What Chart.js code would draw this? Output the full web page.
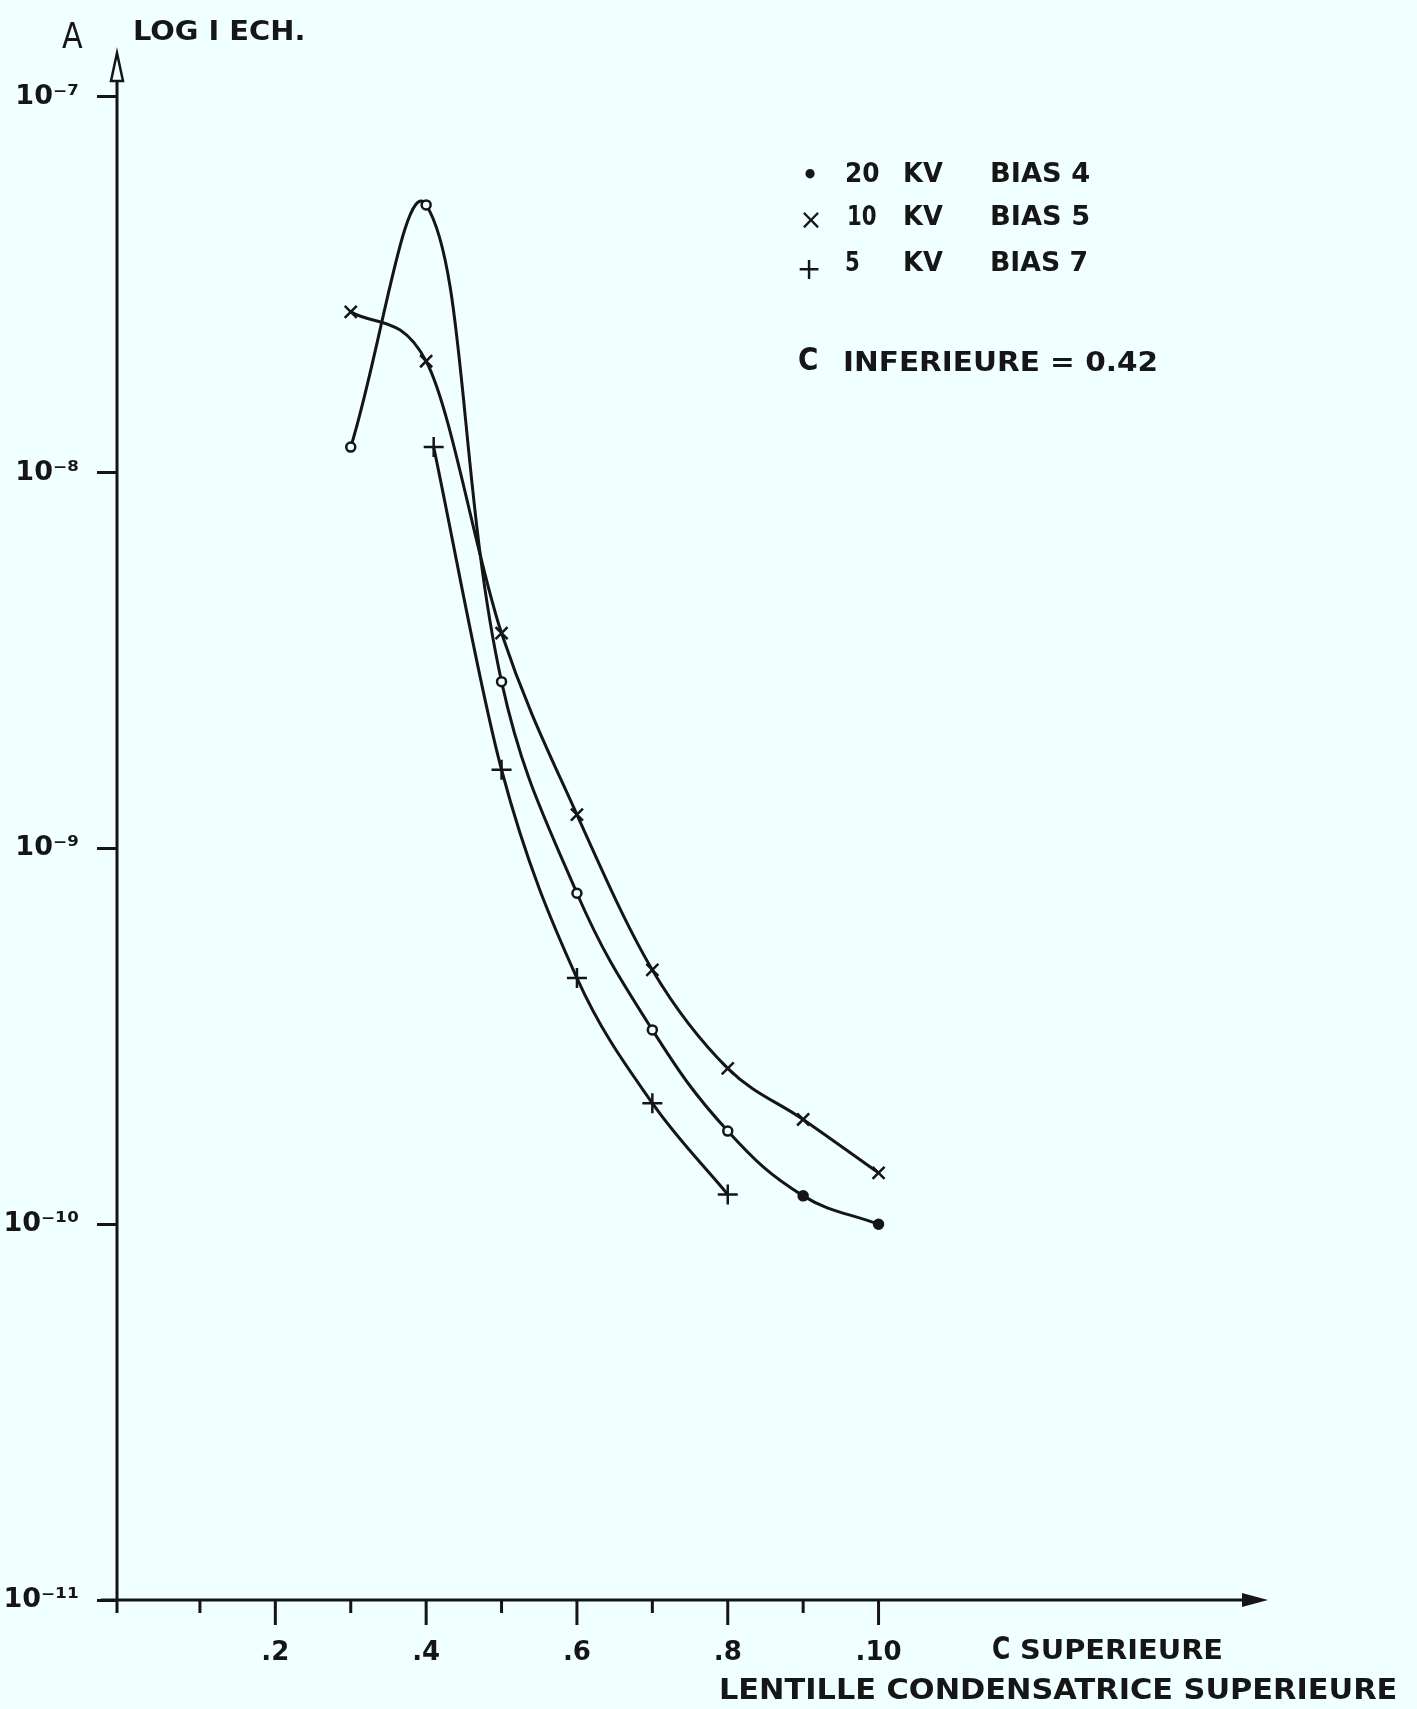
<!DOCTYPE html>
<html>
<head>
<meta charset="utf-8">
<title>LOG I ECH.</title>
<script src="https://cdn.jsdelivr.net/npm/chart.js@4.4.0/dist/chart.umd.min.js"></script>
<style>
  body { margin: 0; background: #f0ffff; }
  #page { position: relative; width: 1417px; height: 1709px; overflow: hidden; }
  #graph { position: absolute; left: 0; top: 0; }
  .lbl { position: absolute; font-family: "DejaVu Sans", sans-serif; font-weight: bold; color: #161616;
         white-space: nowrap; line-height: 1; transform-origin: 0 50%; }
  .mk { position: absolute; font-family: "DejaVu Sans", sans-serif; font-weight: bold; color: #161616;
        line-height: 1; transform: translate(-50%, -50%); }
</style>
</head>
<body>
<div id="page">
  <canvas id="graph" width="1417" height="1709"></canvas>

  <div class="lbl" style="left:62px;top:36px;font-size:36px;font-weight:normal" data-w="21">A</div>
  <div class="lbl" style="left:133px;top:30px;font-size:27px" data-w="172">LOG I ECH.</div>

  <div class="mk" style="left:810px;top:175px;font-size:26px">•</div>
  <div class="lbl" style="left:845px;top:172px;font-size:27px" data-w="35">20</div>
  <div class="lbl" style="left:903px;top:172px;font-size:27px" data-w="40">KV</div>
  <div class="lbl" style="left:990px;top:172px;font-size:27px" data-w="100">BIAS 4</div>

  <div class="mk" style="left:811px;top:220px;font-size:28px;font-weight:normal">×</div>
  <div class="lbl" style="left:847px;top:215px;font-size:27px" data-w="30">10</div>
  <div class="lbl" style="left:903px;top:215px;font-size:27px" data-w="40">KV</div>
  <div class="lbl" style="left:990px;top:215px;font-size:27px" data-w="100">BIAS 5</div>

  <div class="mk" style="left:809px;top:269px;font-size:30px;font-weight:normal">+</div>
  <div class="lbl" style="left:845px;top:261px;font-size:27px" data-w="15">5</div>
  <div class="lbl" style="left:903px;top:261px;font-size:27px" data-w="40">KV</div>
  <div class="lbl" style="left:990px;top:261px;font-size:27px" data-w="98">BIAS 7</div>

  <div class="lbl" style="left:798px;top:359px;font-size:32px" data-w="20">C</div>
  <div class="lbl" style="left:843px;top:361px;font-size:27px" data-w="315">INFERIEURE = 0.42</div>

  <div class="lbl" style="left:992px;top:1648px;font-size:32px" data-w="18">C</div>
  <div class="lbl" style="left:1020px;top:1649px;font-size:27px" data-w="203">SUPERIEURE</div>
  <div class="lbl" style="left:719px;top:1690px;font-size:28px" data-w="678">LENTILLE CONDENSATRICE SUPERIEURE</div>
</div>

<script>
// values (x = C superieure, y = I ech. in A)
const kv20X = [0.3, 0.4, 0.5, 0.6, 0.7, 0.8, 0.9, 1.0];
const kv20Y = [1.17e-8, 5.16e-8, 2.78e-9, 7.6e-10, 3.29e-10, 1.77e-10, 1.19e-10, 1.0e-10];

const kv10X = [0.3, 0.4, 0.5, 0.6, 0.7, 0.8, 0.9, 1.0];
const kv10Y = [2.68e-8, 1.98e-8, 3.74e-9, 1.23e-9, 4.75e-10, 2.6e-10, 1.9e-10, 1.37e-10];

const kv5X = [0.41, 0.5, 0.6, 0.7, 0.8];
const kv5Y = [1.17e-8, 1.62e-9, 4.52e-10, 2.1e-10, 1.2e-10];

const xTickValues = [0.2, 0.4, 0.6, 0.8, 1.0];
const xTickLabels = [".2", ".4", ".6", ".8", ".10"];
const xMinorTicks = [0.1, 0.3, 0.5, 0.7, 0.9];

const yTickValues = [1e-11, 1e-10, 1e-9, 1e-8, 1e-7];
const yTickLabels = ["10⁻¹¹", "10⁻¹⁰", "10⁻⁹", "10⁻⁸", "10⁻⁷"];

const ink = "#151515";
const bg = "#f0ffff";

// fit the lettering to the widths measured on the drawing
document.querySelectorAll(".lbl").forEach(el => {
  const w = +el.dataset.w;
  const k = w ? w / el.offsetWidth : 1;
  el.style.transform = "translateY(-50%) scaleX(" + k + ")";
});

function series(label, xs, ys, style, radius, mode, fillFn) {
  return {
    label: label,
    data: xs.map((x, i) => ({ x: x, y: ys[i] })),
    borderColor: ink,
    borderWidth: 3,
    tension: 0.4,
    cubicInterpolationMode: mode,
    fill: false,
    pointStyle: style,
    pointRadius: radius,
    pointBorderColor: ink,
    pointBorderWidth: 2.5,
    pointBackgroundColor: fillFn || bg
  };
}

// axes drawn by hand: arrows, x tick marks of two lengths
const handAxes = {
  id: "handAxes",
  beforeDatasetsDraw(chart) {
    const { ctx, chartArea: a, scales } = chart;
    const xs = scales.x;
    ctx.save();
    ctx.strokeStyle = ink;
    ctx.lineWidth = 3;
    ctx.beginPath();
    ctx.moveTo(a.left, a.bottom + 13);
    ctx.lineTo(a.left, a.top + 26);
    ctx.moveTo(a.left - 16, a.bottom);
    ctx.lineTo(a.right - 20, a.bottom);
    xMinorTicks.forEach(v => {
      const p = xs.getPixelForValue(v);
      ctx.moveTo(p, a.bottom);
      ctx.lineTo(p, a.bottom + 13);
    });
    xTickValues.forEach(v => {
      const p = xs.getPixelForValue(v);
      ctx.moveTo(p, a.bottom);
      ctx.lineTo(p, a.bottom + 25);
    });
    ctx.stroke();

    // y arrow, narrow outlined head
    ctx.lineWidth = 2.5;
    ctx.beginPath();
    ctx.moveTo(a.left, a.top);
    ctx.lineTo(a.left + 6, a.top + 28);
    ctx.lineTo(a.left - 6, a.top + 28);
    ctx.closePath();
    ctx.fillStyle = bg;
    ctx.fill();
    ctx.stroke();

    // x arrow, small filled head
    ctx.beginPath();
    ctx.moveTo(a.right, a.bottom);
    ctx.lineTo(a.right - 26, a.bottom - 7);
    ctx.lineTo(a.right - 26, a.bottom + 7);
    ctx.closePath();
    ctx.fillStyle = ink;
    ctx.fill();
    ctx.restore();
  }
};

const ctx = document.getElementById("graph");

new Chart(ctx, {
  type: "line",
  data: {
    datasets: [
      series("20 KV BIAS 4", kv20X, kv20Y, "circle", 4.5, "default", c => (c.dataIndex > 5 ? ink : bg)),
      series("10 KV BIAS 5", kv10X, kv10Y, "crossRot", 8.5, "monotone"),
      series("5 KV BIAS 7", kv5X, kv5Y, "cross", 10, "monotone")
    ]
  },
  options: {
    responsive: false,
    animation: false,
    events: [],
    layout: { padding: { top: 53, right: 149, bottom: 0, left: 0 } },
    plugins: { legend: { display: false }, tooltip: { enabled: false } },
    scales: {
      x: {
        type: "linear",
        min: -0.01,
        max: 1.5165,
        grid: { display: false, drawTicks: false },
        border: { display: false },
        afterBuildTicks: s => { s.ticks = xTickValues.map(v => ({ value: v })); },
        afterFit: s => { s.height = 109; },
        ticks: {
          autoSkip: false,
          maxRotation: 0,
          padding: 38,
          color: ink,
          font: { family: "DejaVu Sans", size: 26, weight: "bold" },
          callback: (v, i) => xTickLabels[i]
        }
      },
      y: {
        type: "logarithmic",
        min: 1e-11,
        max: Math.pow(10, -6.883),
        grid: { display: true, drawOnChartArea: false, drawTicks: true, tickLength: 20,
                tickWidth: 3, tickColor: ink },
        border: { display: false },
        afterBuildTicks: s => { s.ticks = yTickValues.map(v => ({ value: v })); },
        afterFit: s => { s.width = 117; },
        ticks: {
          autoSkip: false,
          padding: 18,
          color: ink,
          font: { family: "DejaVu Sans", size: 27, weight: "bold" },
          callback: (v, i) => yTickLabels[i]
        }
      }
    }
  },
  plugins: [handAxes]
});
</script>
</body>
</html>
